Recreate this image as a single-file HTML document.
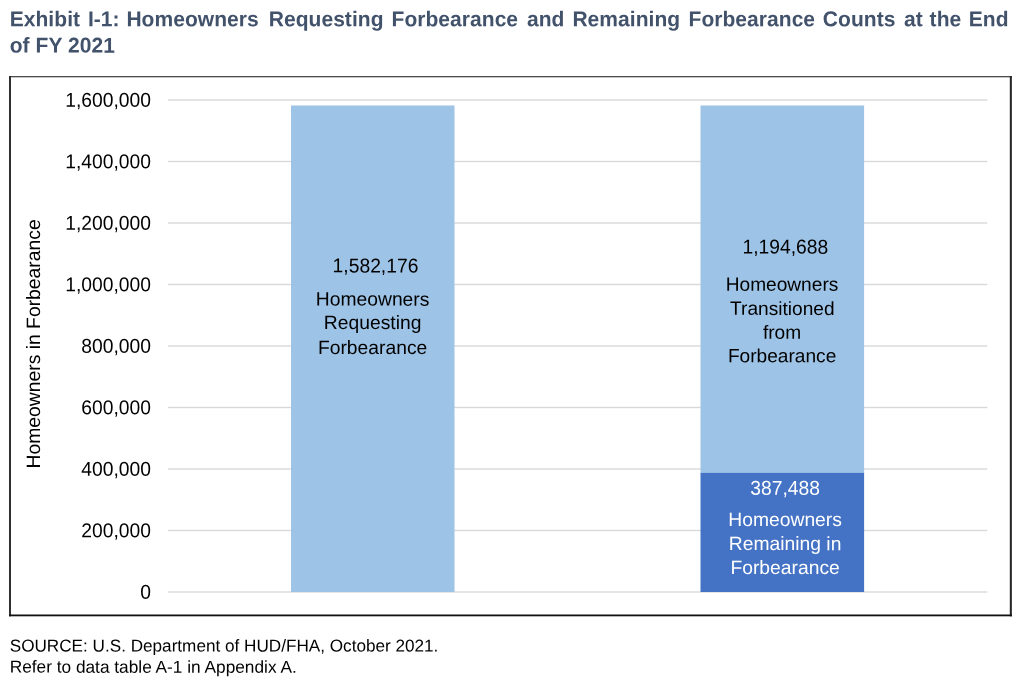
<!DOCTYPE html>
<html lang="en">
<head>
<meta charset="utf-8">
<title>Exhibit I-1</title>
<style>
html,body{margin:0;padding:0;background:#fff;}
body{width:1024px;height:682px;overflow:hidden;position:relative;font-family:"Liberation Sans",Arial,sans-serif;}
svg{position:absolute;left:0;top:0;display:block;}
svg text{font-family:"Liberation Sans",Arial,sans-serif;text-rendering:geometricPrecision;}
.t{font-weight:bold;letter-spacing:0.05px;font-size:21.0px;fill:#42526b;}
.c{font-size:19.3px;fill:#000;}
.w{font-size:19.3px;fill:#fff;}
.f{font-size:17.2px;fill:#000;}
</style>
</head>
<body>
<svg width="1024" height="682" viewBox="0 0 1024 682">
<g>
<text class="t" transform="translate(9.70 26.20) rotate(0.05) scale(1 1.02)">Exhibit</text>
<text class="t" transform="translate(87.90 26.20) rotate(0.05) scale(1 1.02)">I-1:</text>
<text class="t" transform="translate(126.40 26.20) rotate(0.05) scale(1 1.02)">Homeowners</text>
<text class="t" transform="translate(268.70 26.20) rotate(0.05) scale(1 1.02)">Requesting</text>
<text class="t" transform="translate(391.50 26.20) rotate(0.05) scale(1 1.02)">Forbearance</text>
<text class="t" transform="translate(527.00 26.20) rotate(0.05) scale(1 1.02)">and</text>
<text class="t" transform="translate(572.40 26.20) rotate(0.05) scale(1 1.02)">Remaining</text>
<text class="t" transform="translate(688.50 26.20) rotate(0.05) scale(1 1.02)">Forbearance</text>
<text class="t" transform="translate(822.80 26.20) rotate(0.05) scale(1 1.02)">Counts</text>
<text class="t" transform="translate(904.00 26.20) rotate(0.05) scale(1 1.02)">at</text>
<text class="t" transform="translate(929.60 26.20) rotate(0.05) scale(1 1.02)">the</text>
<text class="t" transform="translate(968.80 26.20) rotate(0.05) scale(1 1.02)">End</text>
</g>
<text class="t" transform="translate(9.70 52.55) rotate(0.05) scale(1 1.02)">of FY 2021</text>
<rect x="168" y="99.32" width="819.3" height="1.36" fill="#d6d8db"/>
<rect x="168" y="160.82" width="819.3" height="1.36" fill="#d6d8db"/>
<rect x="168" y="222.32" width="819.3" height="1.36" fill="#d6d8db"/>
<rect x="168" y="283.82" width="819.3" height="1.36" fill="#d6d8db"/>
<rect x="168" y="345.32" width="819.3" height="1.36" fill="#d6d8db"/>
<rect x="168" y="406.82" width="819.3" height="1.36" fill="#d6d8db"/>
<rect x="168" y="468.32" width="819.3" height="1.36" fill="#d6d8db"/>
<rect x="168" y="529.82" width="819.3" height="1.36" fill="#d6d8db"/>
<rect x="168" y="591.32" width="819.3" height="1.36" fill="#d6d8db"/>
<rect x="291" y="105.5" width="163.5" height="486.5" fill="#9dc3e6"/>
<rect x="700.5" y="105.5" width="163.6" height="367.5" fill="#9dc3e6"/>
<rect x="700.5" y="472.9" width="163.6" height="119.1" fill="#4472c4"/>
<rect x="9" y="76" width="1002.8" height="1" fill="#4d4d4d"/>
<rect x="9" y="77" width="1002.8" height="1" fill="#c4c4c4"/>
<rect x="9" y="76" width="2" height="540.3" fill="#303030"/>
<rect x="1009.8" y="76" width="2.05" height="540.3" fill="#262626"/>
<rect x="9" y="614.5" width="1002.85" height="1.8" fill="#111"/>
<text class="c" text-anchor="end" transform="translate(151.00 106.75) rotate(0.05) scale(1 1.04)">1,600,000</text>
<text class="c" text-anchor="end" transform="translate(151.00 168.25) rotate(0.05) scale(1 1.04)">1,400,000</text>
<text class="c" text-anchor="end" transform="translate(151.00 229.75) rotate(0.05) scale(1 1.04)">1,200,000</text>
<text class="c" text-anchor="end" transform="translate(151.00 291.25) rotate(0.05) scale(1 1.04)">1,000,000</text>
<text class="c" text-anchor="end" transform="translate(151.00 352.75) rotate(0.05) scale(1 1.04)">800,000</text>
<text class="c" text-anchor="end" transform="translate(151.00 414.25) rotate(0.05) scale(1 1.04)">600,000</text>
<text class="c" text-anchor="end" transform="translate(151.00 475.75) rotate(0.05) scale(1 1.04)">400,000</text>
<text class="c" text-anchor="end" transform="translate(151.00 537.25) rotate(0.05) scale(1 1.04)">200,000</text>
<text class="c" text-anchor="end" transform="translate(151.00 598.75) rotate(0.05) scale(1 1.04)">0</text>
<text class="c" text-anchor="middle" transform="translate(40.00 343.95) rotate(-89.95)" style="font-size:19.34px">Homeowners in Forbearance</text>
<text class="c" text-anchor="middle" transform="translate(375.50 272.40) rotate(0.05) scale(1 1.04)">1,582,176</text>
<text class="c" text-anchor="middle" transform="translate(372.60 305.60) rotate(0.05)">Homeowners</text>
<text class="c" text-anchor="middle" transform="translate(372.60 329.00) rotate(0.05)">Requesting</text>
<text class="c" text-anchor="middle" transform="translate(372.60 354.00) rotate(0.05)">Forbearance</text>
<text class="c" text-anchor="middle" transform="translate(785.30 253.60) rotate(0.05) scale(1 1.04)">1,194,688</text>
<text class="c" text-anchor="middle" transform="translate(782.00 290.70) rotate(0.05)" style="font-size:19.12px">Homeowners</text>
<text class="c" text-anchor="middle" transform="translate(782.30 314.90) rotate(0.05)" style="font-size:19.12px">Transitioned</text>
<text class="c" text-anchor="middle" transform="translate(782.00 338.70) rotate(0.05)" style="font-size:19.12px">from</text>
<text class="c" text-anchor="middle" transform="translate(782.10 362.20) rotate(0.05)" style="font-size:19.12px">Forbearance</text>
<text class="w" text-anchor="middle" transform="translate(785.10 494.70) rotate(0.05) scale(1 1.04)">387,488</text>
<text class="w" text-anchor="middle" transform="translate(785.10 526.05) rotate(0.05)">Homeowners</text>
<text class="w" text-anchor="middle" transform="translate(785.10 550.10) rotate(0.05)">Remaining in</text>
<text class="w" text-anchor="middle" transform="translate(785.10 574.00) rotate(0.05)">Forbearance</text>
<text class="f" transform="translate(9.70 651.40) rotate(0.03)" style="font-size:17.15px">SOURCE: U.S. Department of HUD/FHA, October 2021.</text>
<text class="f" transform="translate(9.70 672.60) rotate(0.03)" style="font-size:17.27px">Refer to data table A-1 in Appendix A.</text>
</svg>
</body>
</html>
